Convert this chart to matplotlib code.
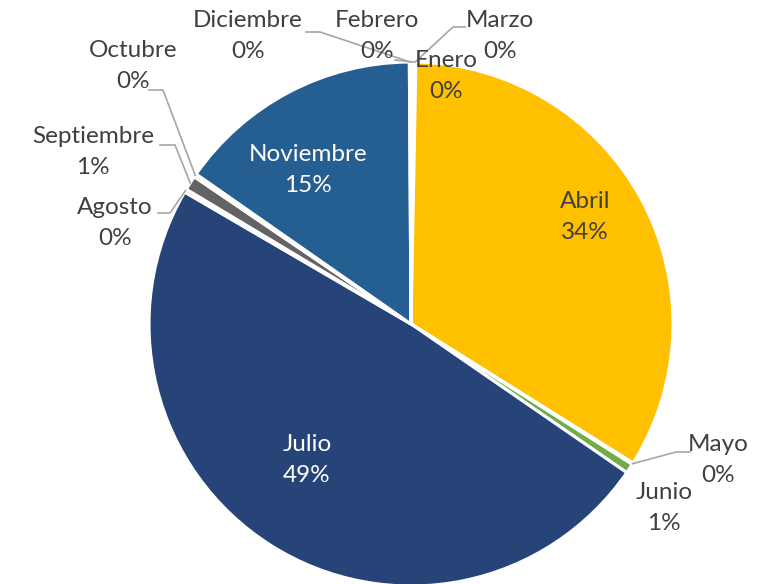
"""Pie chart of monthly shares (Excel-style pie with leader lines)."""

import matplotlib

matplotlib.use("Agg")
import matplotlib.pyplot as plt
import numpy as np

W, H = 779, 584

months = ["Enero", "Febrero", "Marzo", "Abril", "Mayo", "Junio", "Julio",
          "Agosto", "Septiembre", "Octubre", "Noviembre", "Diciembre"]
shares = [0.1, 0.1, 0.1, 33.6, 0.1, 0.6, 48.8, 0.2, 0.9, 0.2, 15.2, 0.1]
colors = ["#4472C4", "#ED7D31", "#A5A5A5", "#FFC000", "#5B9BD5", "#70AD47",
          "#264478", "#9E480E", "#636363", "#997300", "#255E91", "#43682B"]

# label layout in pixel coords (x, y from top), text colour, leader elbow points
label_pos = {
    "Enero": (446, 76), "Febrero": (377, 36), "Marzo": (500, 36),
    "Abril": (585, 217), "Mayo": (718, 460), "Junio": (664, 508),
    "Julio": (307, 460), "Agosto": (115, 223), "Septiembre": (93, 152),
    "Octubre": (133, 66), "Noviembre": (308, 170), "Diciembre": (248, 36),
}
white_labels = {"Julio", "Noviembre"}
leaders = {
    "Diciembre": [(306, 32), (320, 32)],
    "Febrero": [(395, 60)],
    "Marzo": [(465, 27), (453, 27)],
    "Octubre": [(149, 90), (163, 90)],
    "Septiembre": [(160, 145), (175, 145)],
    "Agosto": [(158, 213), (170, 213)],
    "Mayo": [(690, 452), (676, 452)],
}

TXT = "#404040"
plt.rcParams["font.family"] = ["Lato", "DejaVu Sans"]

fig = plt.figure(figsize=(W / 100, H / 100), dpi=100)
ax = fig.add_axes([0, 0, 1, 1])

cx, cy, r = 411, 324, 262
wedges, _ = ax.pie(shares, colors=colors, center=(cx, H - cy), radius=r,
                   startangle=90, counterclock=False,
                   wedgeprops=dict(edgecolor="white", linewidth=2.2))
ax.set_xlim(0, W)
ax.set_ylim(0, H)
ax.set_aspect("equal")
ax.axis("off")


def flip(p):
    return p[0], H - p[1]


for name, share, wdg in zip(months, shares, wedges):
    x, y = flip(label_pos[name])
    ax.text(x, y, f"{name}\n{share:.0f}%", ha="center", va="center",
            fontsize=17.5, linespacing=1.55,
            color="white" if name in white_labels else TXT, zorder=5)
    if name in leaders:
        mid = np.deg2rad((wdg.theta1 + wdg.theta2) / 2)
        edge = (cx + r * np.cos(mid), H - cy + r * np.sin(mid))
        pts = [flip(p) for p in leaders[name]] + [edge]
        xs, ys = zip(*pts)
        ax.plot(xs, ys, color="#A6A6A6", lw=1.2, zorder=4)

fig.savefig("out.png", dpi=100)
